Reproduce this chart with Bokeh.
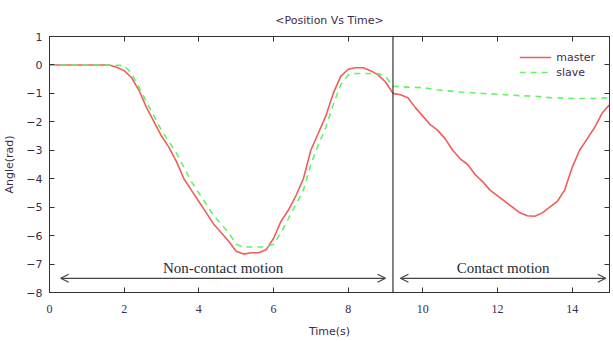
from bokeh.plotting import figure
from bokeh.models import (Range1d, FixedTicker, LinearAxis, Span, Arrow, OpenHead,
                          Label, Legend, LegendItem)
from bokeh.embed import file_html
from bokeh.resources import INLINE

# ---- data ----
master_t = [0.0, 0.4, 0.8, 1.2, 1.6, 1.8, 2.0, 2.2, 2.4, 2.6, 2.8, 3.0, 3.2, 3.4, 3.6, 3.8,
            4.0, 4.2, 4.4, 4.6, 4.8, 5.0, 5.2, 5.4, 5.6, 5.8, 6.0, 6.2, 6.4, 6.6, 6.8,
            7.0, 7.2, 7.4, 7.6, 7.8, 8.0, 8.2, 8.4, 8.6, 8.8, 9.0, 9.2, 9.4, 9.6, 9.8,
            10.0, 10.2, 10.4, 10.6, 10.8, 11.0, 11.2, 11.4, 11.6, 11.8, 12.0, 12.2, 12.4,
            12.6, 12.8, 13.0, 13.2, 13.4, 13.6, 13.8, 14.0, 14.2, 14.4, 14.6, 14.8, 15.0]
master_y = [0.0, 0.0, 0.0, 0.0, 0.0, -0.08, -0.2, -0.45, -0.9, -1.5, -2.0, -2.5, -2.9, -3.4,
            -4.0, -4.4, -4.8, -5.2, -5.6, -5.9, -6.2, -6.55, -6.65, -6.6, -6.6, -6.5, -6.1,
            -5.5, -5.1, -4.6, -4.0, -3.0, -2.4, -1.8, -1.0, -0.4, -0.15, -0.1, -0.1, -0.2,
            -0.35, -0.6, -1.0, -1.05, -1.15, -1.5, -1.8, -2.1, -2.3, -2.6, -3.0, -3.3, -3.5,
            -3.85, -4.1, -4.4, -4.6, -4.8, -5.0, -5.2, -5.3, -5.32, -5.2, -5.0, -4.8, -4.4,
            -3.6, -3.0, -2.6, -2.2, -1.7, -1.4]

slave_t = [0.0, 0.4, 0.8, 1.2, 1.6, 2.0, 2.2, 2.4, 2.6, 2.8, 3.0, 3.2, 3.4, 3.6, 3.8,
           4.0, 4.2, 4.4, 4.6, 4.8, 5.0, 5.2, 5.4, 5.6, 5.8, 6.0, 6.2, 6.4, 6.6, 6.8,
           7.0, 7.2, 7.4, 7.6, 7.8, 8.0, 8.2, 8.4, 8.6, 8.8, 9.0, 9.2, 9.6, 10.0, 10.4,
           11.0, 11.6, 12.0, 12.6, 13.0, 13.4, 14.0, 14.6, 15.0]
slave_y = [0.0, 0.0, 0.0, 0.0, 0.0, -0.02, -0.3, -0.8, -1.3, -1.8, -2.3, -2.7, -3.1, -3.6,
           -4.1, -4.5, -4.9, -5.3, -5.6, -5.9, -6.3, -6.4, -6.4, -6.4, -6.4, -6.3, -5.9,
           -5.4, -4.9, -4.4, -3.5, -2.8, -2.2, -1.4, -0.7, -0.35, -0.3, -0.3, -0.3, -0.3,
           -0.4, -0.75, -0.78, -0.8, -0.88, -0.95, -1.0, -1.03, -1.08, -1.1, -1.15, -1.18,
           -1.18, -1.15]

x_ticks = [0, 2, 4, 6, 8, 10, 12, 14]
y_ticks = [1, 0, -1, -2, -3, -4, -5, -6, -7, -8]
split_t = 9.2
arrow_y = -7.5
regions = [("Non-contact motion", 0.3, 9.0), ("Contact motion", 9.4, 14.9)]

RED = "#f25c5c"
GREEN = "#66f266"
DARK = "#333333"
TXT = "#3d2a4a"

p = figure(frame_width=560, frame_height=256, output_backend="svg", toolbar_location=None,
           x_range=Range1d(0, 15), y_range=Range1d(-8, 1),
           title="<Position Vs Time>", min_border_left=43, min_border_right=2,
           min_border_top=36, min_border_bottom=44)
p.title.align = "center"
p.title.text_font = "DejaVu Sans"
p.title.text_font_size = "11px"
p.title.text_font_style = "normal"
p.title.text_color = TXT
p.title.standoff = 20
p.grid.visible = False
p.outline_line_color = DARK
p.outline_line_width = 1

for ax in (p.xaxis[0], p.yaxis[0]):
    ax.major_tick_in = 5
    ax.major_tick_out = 0
    ax.minor_tick_in = 0
    ax.minor_tick_out = 0
    ax.axis_line_color = DARK
    ax.major_tick_line_color = DARK
    ax.major_label_text_font_size = "11px"
    ax.major_label_text_color = TXT
    ax.axis_label_text_font = "DejaVu Sans"
    ax.axis_label_text_font_size = "11px"
    ax.axis_label_text_font_style = "normal"
    ax.axis_label_text_color = TXT
p.xaxis[0].major_label_text_font = "Liberation Serif"
p.xaxis[0].major_label_text_font_size = "12px"
p.yaxis[0].major_label_text_font = "DejaVu Sans"
p.xaxis[0].ticker = FixedTicker(ticks=x_ticks)
p.yaxis[0].ticker = FixedTicker(ticks=y_ticks)
p.xaxis[0].axis_label = "Time(s)"
p.yaxis[0].axis_label = "Angle(rad)"
p.xaxis[0].major_label_standoff = 12
p.xaxis[0].axis_label_standoff = 9
p.yaxis[0].major_label_standoff = 7
p.yaxis[0].axis_label_standoff = 7

blank_x = {t: "" for t in x_ticks}
blank_y = {t: "" for t in y_ticks}
top = LinearAxis(ticker=FixedTicker(ticks=x_ticks), major_label_overrides=blank_x,
                 major_tick_in=5, major_tick_out=0, minor_tick_in=0, minor_tick_out=0,
                 major_label_standoff=0, axis_line_color=DARK, major_tick_line_color=DARK)
right = LinearAxis(ticker=FixedTicker(ticks=y_ticks), major_label_overrides=blank_y,
                   major_tick_in=5, major_tick_out=0, minor_tick_in=0, minor_tick_out=0,
                   major_label_standoff=0, axis_line_color=DARK, major_tick_line_color=DARK)
p.add_layout(top, "above")
p.add_layout(right, "right")

r1 = p.line(master_t, master_y, line_color=RED, line_width=1.6)
r2 = p.line(slave_t, slave_y, line_color=GREEN, line_width=1.6, line_dash="6 5")

p.add_layout(Span(location=split_t, dimension="height", line_color=DARK, line_width=1.2))

for name, x0, x1 in regions:
    p.add_layout(Arrow(x_start=x0, y_start=arrow_y, x_end=x1, y_end=arrow_y,
                       line_color="#444444", line_width=1.3,
                       start=OpenHead(size=8, line_color="#444444", line_width=1.3),
                       end=OpenHead(size=8, line_color="#444444", line_width=1.3)))
    p.add_layout(Label(x=(x0 + x1) / 2, y=arrow_y, text=name, text_align="center",
                       text_baseline="bottom", y_offset=2, text_font="Liberation Serif",
                       text_font_size="15px", text_color="#222a38"))

legend = Legend(items=[LegendItem(label="master", renderers=[r1]),
                       LegendItem(label="slave", renderers=[r2])],
                location="top_right", border_line_alpha=0, background_fill_alpha=0,
                label_text_font="DejaVu Sans", label_text_font_size="11px",
                label_text_color=TXT, glyph_width=32, spacing=1, padding=4,
                label_height=14, glyph_height=14)
p.add_layout(legend)

open("out.html", "w").write(file_html(p, INLINE))
